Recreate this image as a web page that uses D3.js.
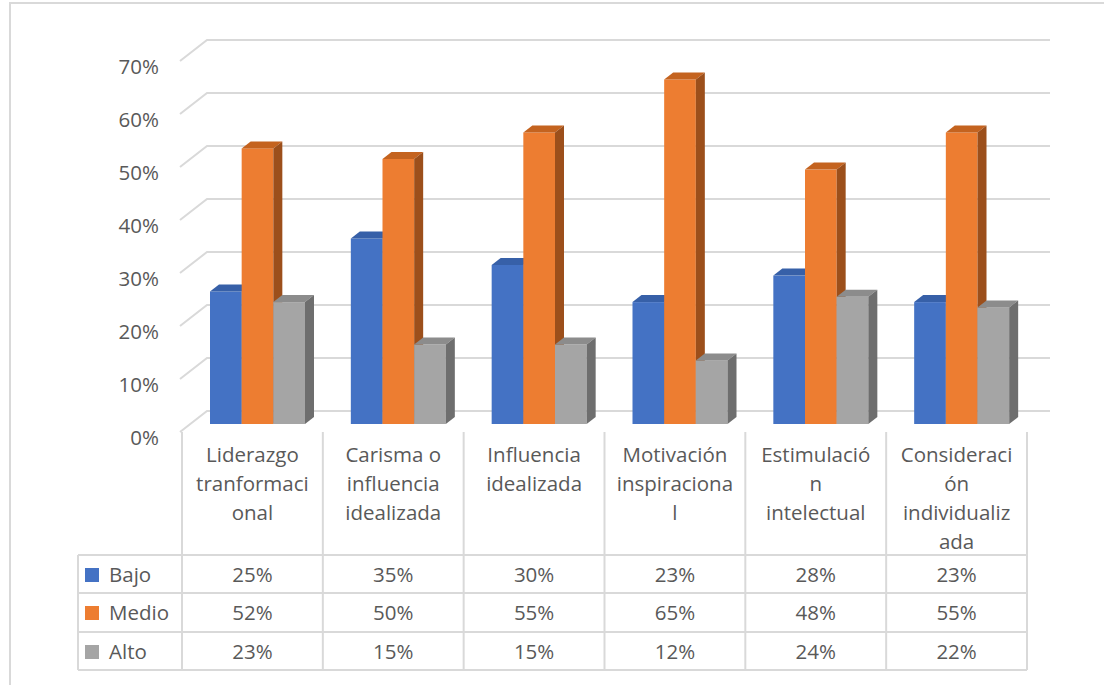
<!DOCTYPE html>
<html>
<head>
<meta charset="utf-8">
<script src="https://cdn.jsdelivr.net/npm/d3@7"></script>
<style>
  body { margin: 0; background: #fff; }
  text { font-family: "Open Sans", sans-serif; fill: #595959; }
</style>
</head>
<body>
<div id="chart"></div>
<script>
// data

const categories = ["Liderazgo tranformacional", "Carisma o influencia idealizada", "Influencia idealizada",
  "Motivación inspiracional", "Estimulación intelectual", "Consideración individualizada"];
// the way the header cells wrap the names
const catLines = [
  ["Liderazgo", "tranformaci", "onal"],
  ["Carisma o", "influencia", "idealizada"],
  ["Influencia", "idealizada"],
  ["Motivación", "inspiraciona", "l"],
  ["Estimulació", "n", "intelectual"],
  ["Consideraci", "ón", "individualiz", "ada"]
];
const seriesNames = ["Bajo", "Medio", "Alto"];
const bajo = [25, 35, 30, 23, 28, 23];
const medio = [52, 50, 55, 65, 48, 55];
const alto = [23, 15, 15, 12, 24, 22];
const yTicks = [0, 10, 20, 30, 40, 50, 60, 70];

const values = [bajo, medio, alto];
const frontColor = ["#4472c4", "#ed7d31", "#a5a5a5"];
const topColor = ["#3760a8", "#c4631f", "#8c8c8c"];
const sideColor = ["#2f5597", "#9c4f1b", "#6e6e6e"];

const W = 1104, H = 685;
const depthX = 27, depthY = 21;   // wall depth
const barDX = 9, barDY = 7;        // bar depth

const svg = d3.select("#chart")
  .append("svg")
    .attr("width", W)
    .attr("height", H);

// outer frame
svg.append("rect")
  .attr("x", 10).attr("y", 3)
  .attr("width", 1110).attr("height", 720)
  .attr("fill", "none")
  .attr("stroke", "#d9d9d9")
  .attr("stroke-width", 2);

// scales
const x = d3.scaleBand()
  .domain(categories)
  .range([182, 1027]);

const xs = d3.scaleBand()
  .domain(seriesNames)
  .range([28, 123]);

const yWall = d3.scaleLinear()
  .domain([0, 70])
  .range([411, 40]);

const yBar = d3.scaleLinear()
  .domain([0, 70])
  .range([424, 53]);

// back wall gridlines and the diagonal side lines
const grid = svg.append("g")
  .attr("stroke", "#d9d9d9")
  .attr("stroke-width", 2)
  .attr("fill", "none");

grid.selectAll(".gl")
  .data(yTicks)
  .join("path")
    .attr("d", d => `M${180},${yWall(d) + depthY}L${180 + depthX},${yWall(d)}L1050,${yWall(d)}`);

// y labels
svg.append("g")
  .selectAll("text")
  .data(yTicks)
  .join("text")
    .attr("x", 159)
    .attr("y", d => yWall(d) + depthY + 6)
    .attr("dy", "0.35em")
    .attr("text-anchor", "end")
    .style("font-size", "20.5px")
    .text(d => d + "%");

// bars
const bars = svg.append("g");
categories.forEach(function(c, i) {
  seriesNames.forEach(function(s, j) {
    const v = values[j][i];
    const x0 = x(c) + xs(s), x1 = x0 + xs.bandwidth();
    const yt = yBar(v), yb = yBar(0);
    const g = bars.append("g");
    g.append("rect")
      .attr("x", x0).attr("y", yt)
      .attr("width", x1 - x0).attr("height", yb - yt)
      .attr("fill", frontColor[j]);
    g.append("path")
      .attr("d", `M${x0},${yt}L${x0 + barDX},${yt - barDY}L${x1 + barDX},${yt - barDY}L${x1},${yt}Z`)
      .attr("fill", topColor[j]);
    g.append("path")
      .attr("d", `M${x1},${yt}L${x1 + barDX},${yt - barDY}L${x1 + barDX},${yb - barDY}L${x1},${yb}Z`)
      .attr("fill", sideColor[j]);
  });
});

// data table
const rowY = [555, 593, 632, 670];
const table = svg.append("g")
  .attr("stroke", "#d9d9d9")
  .attr("stroke-width", 2);

const colEdges = categories.map(c => x(c)).concat([x.range()[1]]);
table.selectAll(".v")
  .data(colEdges)
  .join("line")
    .attr("x1", d => d).attr("x2", d => d)
    .attr("y1", 432).attr("y2", 670);

table.append("line")
  .attr("x1", 78).attr("x2", 78)
  .attr("y1", 555).attr("y2", 670);

table.selectAll(".h")
  .data(rowY)
  .join("line")
    .attr("x1", 78).attr("x2", 1027)
    .attr("y1", d => d).attr("y2", d => d);

// header labels
const header = svg.append("g");
categories.forEach(function(c, i) {
  header.append("text")
    .attr("text-anchor", "middle")
    .style("font-size", "20.5px")
    .selectAll("tspan")
    .data(catLines[i])
    .join("tspan")
      .attr("x", x(c) + x.bandwidth() / 2)
      .attr("y", (d, k) => 462 + k * 29)
      .text(d => d);
});

// legend keys and values
seriesNames.forEach(function(s, j) {
  const base = rowY[j] + 27;
  svg.append("rect")
    .attr("x", 85).attr("y", rowY[j] + 13)
    .attr("width", 14).attr("height", 14)
    .attr("fill", frontColor[j]);
  svg.append("text")
    .attr("x", 109).attr("y", base)
    .style("font-size", "20.5px")
    .text(s);
  svg.append("g")
    .selectAll("text")
    .data(values[j])
    .join("text")
      .attr("x", (d, i) => x(categories[i]) + x.bandwidth() / 2)
      .attr("y", base)
      .attr("text-anchor", "middle")
      .style("font-size", "20.5px")
      .text(d => d + "%");
});
</script>
</body>
</html>
